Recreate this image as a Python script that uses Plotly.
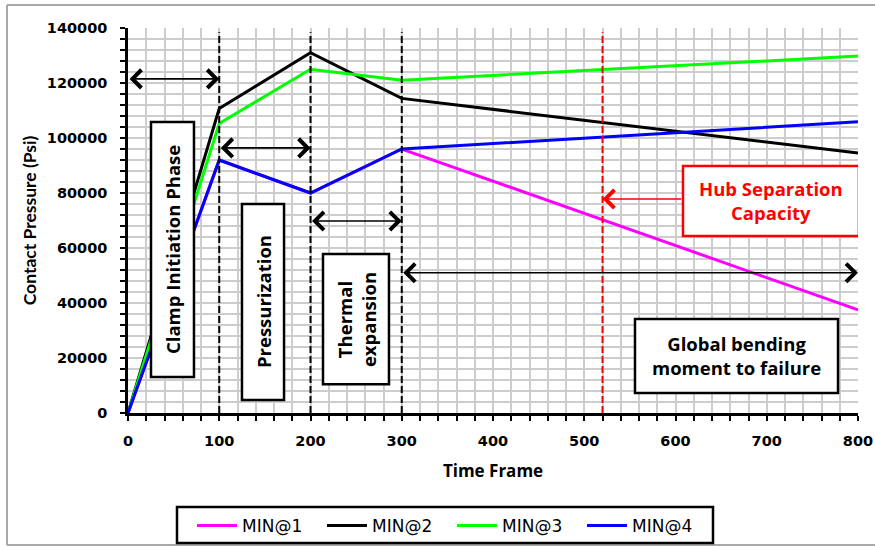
import plotly.graph_objects as go

# ---- data ----
time_frame = [0, 100, 200, 300, 800]
min1 = [0, 92000, 80000, 96000, 37500]
min2 = [0, 110700, 131000, 114400, 94500]
min3 = [0, 105300, 125000, 121000, 129800]
min4 = [0, 92000, 80000, 96000, 105900]
series_names = ["MIN@1", "MIN@2", "MIN@3", "MIN@4"]
series_colors = ["#ff00ff", "#000000", "#00ff00", "#0000ff"]

x_ticks = [0, 100, 200, 300, 400, 500, 600, 700, 800]
y_ticks = [0, 20000, 40000, 60000, 80000, 100000, 120000, 140000]

phase_lines = [100, 200, 300]
capacity_x = 520
arrow_x0 = [0, 100, 200, 300]
arrow_x1 = [100, 200, 300, 800]
arrow_y = [121500, 96400, 69800, 51000]
capacity_arrow = (608, 520, 77800)

# text boxes: (x0, x1, y0, y1, text, angle, color)
boxes = [
    (25.2, 72.3, 13100, 105800, "Clamp Initiation Phase", -90, "black"),
    (124.9, 171.0, 4700, 76000, "Pressurization", -90, "black"),
    (213.7, 286.0, 10500, 57800, "Thermal<br>expansion", -90, "black"),
    (608.2, 801.0, 64400, 89800, "Hub Separation<br>Capacity", 0, "#ff0000"),
    (555.6, 778.1, 7300, 34200, "Global bending<br>moment to failure", 0, "black"),
]

FONT = "Open Sans"
TICKFONT = "DejaVu Sans"
fig = go.Figure()
for name, ys, col in zip(series_names, [min1, min2, min3, min4], series_colors):
    fig.add_trace(go.Scatter(x=time_frame, y=ys, mode="lines", name=name,
                             line=dict(color=col, width=3)))

shapes = []
for xv in phase_lines:
    shapes.append(dict(type="line", xref="x", yref="y", x0=xv, x1=xv, y0=0, y1=138500,
                       line=dict(color="black", width=2, dash="7px,3px"), layer="above"))
shapes.append(dict(type="line", xref="x", yref="y", x0=capacity_x, x1=capacity_x, y0=0, y1=138500,
                   line=dict(color="#ff0000", width=2, dash="7px,3px"), layer="above"))
annotations = []
for (x0, x1, y0, y1, txt, ang, col) in boxes:
    shapes.append(dict(type="rect", xref="x", yref="y", x0=x0, x1=x1, y0=y0, y1=y1,
                       fillcolor="white", line=dict(color=col, width=2.5), layer="above"))
    annotations.append(dict(x=(x0 + x1) / 2, y=(y0 + y1) / 2, xref="x", yref="y",
                            text="<b>" + txt + "</b>", showarrow=False, textangle=ang,
                            font=dict(family=FONT, size=18.5, color=col)))

for a, b, yv in zip(arrow_x0, arrow_x1, arrow_y):
    annotations.append(dict(x=b, y=yv, ax=a, ay=yv, xref="x", yref="y", axref="x", ayref="y",
                            text="", showarrow=True, arrowhead=4, startarrowhead=4,
                            arrowside="end+start", arrowwidth=1.6, arrowsize=2.2,
                            startarrowsize=2.2, arrowcolor="black", standoff=0, startstandoff=0))
annotations.append(dict(x=capacity_arrow[1], y=capacity_arrow[2], ax=capacity_arrow[0], ay=capacity_arrow[2],
                        xref="x", yref="y", axref="x", ayref="y", text="", showarrow=True,
                        arrowhead=4, arrowwidth=1.6, arrowsize=2.2, arrowcolor="#ff0000",
                        standoff=0, startstandoff=0))

# page-pixel -> paper helpers (plot area spans 128..858 x, 28..413 y)
def px2paper_x(p):
    return (p - 128) / 730.0

def px2paper_y(p):
    return (413 - p) / 385.0

gray = "#a8a8a8"
shapes += [
    dict(type="line", xref="paper", yref="paper", x0=px2paper_x(7), x1=px2paper_x(880),
         y0=px2paper_y(5), y1=px2paper_y(5), line=dict(color=gray, width=2)),
    dict(type="line", xref="paper", yref="paper", x0=px2paper_x(7), x1=px2paper_x(7),
         y0=px2paper_y(5), y1=px2paper_y(545), line=dict(color=gray, width=2)),
    dict(type="line", xref="paper", yref="paper", x0=px2paper_x(7), x1=px2paper_x(880),
         y0=px2paper_y(545), y1=px2paper_y(545), line=dict(color=gray, width=2)),
    # legend frame
    dict(type="rect", xref="paper", yref="paper", x0=px2paper_x(177), x1=px2paper_x(713),
         y0=px2paper_y(543), y1=px2paper_y(507), fillcolor="white",
         line=dict(color="black", width=2.5), layer="above"),
]

grid = "#cdcdcd"
tick_font = dict(family=TICKFONT, size=14.5, color="black", weight="bold")
fig.update_layout(
    width=875, height=546,
    margin=dict(l=128, r=17, t=28, b=133, autoexpand=False),
    paper_bgcolor="white", plot_bgcolor="white",
    font=dict(family=FONT, color="black"),
    shapes=shapes, annotations=annotations,
    showlegend=True,
    legend=dict(orientation="h", x=px2paper_x(192), xanchor="left", y=px2paper_y(508), yanchor="top",
                borderwidth=0, bgcolor="rgba(0,0,0,0)",
                font=dict(family="DejaVu Sans", size=17, color="black"),
                itemwidth=40, entrywidth=75, entrywidthmode="pixels"),
    xaxis=dict(range=[0, 800], tickvals=x_ticks, ticktext=[str(v) for v in x_ticks],
               automargin=False,
               showline=True, linecolor="black", linewidth=2.5,
               ticks="outside", ticklen=5, tickwidth=2, tickcolor="black",
               tickfont=tick_font, ticklabelstandoff=8,
               showgrid=True, gridcolor=grid, gridwidth=1.5, zeroline=False,
               minor=dict(dtick=20, ticks="outside", ticklen=5, tickwidth=2, tickcolor="black",
                          showgrid=True, gridcolor=grid, gridwidth=1.5),
               title=dict(text="<b>Time Frame</b>", font=dict(family=FONT, size=17), standoff=17)),
    yaxis=dict(range=[0, 140000], tickvals=y_ticks, ticktext=[str(v) for v in y_ticks],
               automargin=False,
               showline=True, linecolor="black", linewidth=2.5,
               ticks="outside", ticklen=5, tickwidth=2, tickcolor="black",
               tickfont=tick_font, ticklabelstandoff=10,
               showgrid=True, gridcolor=grid, gridwidth=1.5, zeroline=False,
               minor=dict(dtick=4000, ticks="outside", ticklen=5, tickwidth=2, tickcolor="black",
                          showgrid=True, gridcolor=grid, gridwidth=1.5),
               title=dict(text="<b>Contact Pressure (Psi)</b>", font=dict(family="Lato", size=17.5), standoff=6)),
)

fig.write_html("out.html", config={"displayModeBar": False},
               post_script="document.body.style.margin='0';")
